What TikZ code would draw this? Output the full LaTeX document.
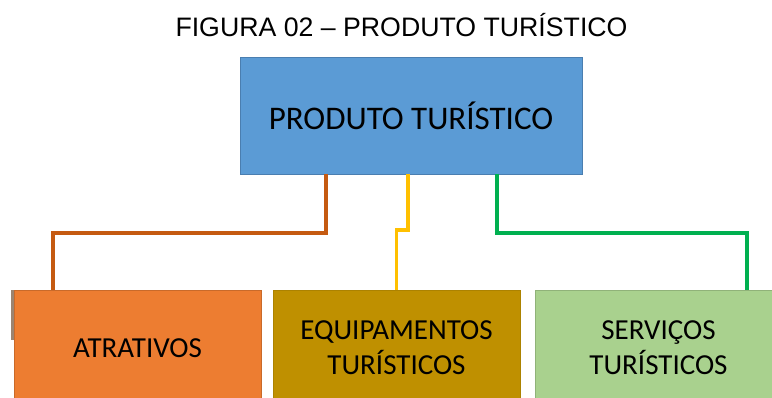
\documentclass[tikz,border=0pt]{standalone}
\usepackage{fontspec}
\setmainfont{Carlito}
\newfontfamily\titlefont{Liberation Sans}
\usetikzlibrary{positioning}
\definecolor{prodblue}{HTML}{5B9BD5}
\definecolor{prodedge}{HTML}{4A7EB0}
\definecolor{atrfill}{HTML}{ED7D31}
\definecolor{equfill}{HTML}{BF9000}
\definecolor{servfill}{HTML}{A9D18E}
\definecolor{atrline}{HTML}{C55A11}
\definecolor{equline}{HTML}{FFC000}
\definecolor{servline}{HTML}{00B050}
\definecolor{stripgray}{HTML}{9C8470}

\begin{document}
\begin{tikzpicture}
[x=1pt,y=-1pt,
 every node/.style={inner sep=0pt,outer sep=0pt,align=center},
 prodbox/.style={rectangle,fill=prodblue,draw=prodedge,line width=0.8pt,minimum width=342pt,minimum height=117pt,font=\fontsize{33}{40}\selectfont},
 box/.style={rectangle,line width=0.8pt,minimum width=247pt,minimum height=116pt,font=\fontsize{29}{35}\selectfont},
 link/.style={line width=3.5pt}]
\useasboundingbox (0,0) rectangle (772,398);
\node[font=\titlefont\fontsize{26.7}{30}\selectfont] (title) at (401.5,25.5) {FIGURA 02 – PRODUTO TURÍSTICO};
\node[prodbox] (prod) at (411,115.5) {PRODUTO TURÍSTICO};

% faint strip behind the first box
\fill[stripgray] (11,290) rectangle (16,340);
\node[box,fill=atrfill,draw=atrfill!85!black]   (atr)  at (137.5,348) {ATRATIVOS};
\node[box,fill=equfill,draw=equfill!90!black]   (equ)  at (396.5,348) {EQUIPAMENTOS\\TURÍSTICOS};
\node[box,fill=servfill,draw=servfill!85!black] (serv) at (658.5,348) {SERVIÇOS\\TURÍSTICOS};

\draw[link,atrline]  ([xshift=-85pt]prod.south) -- ++(0,59) -| ([xshift=-84.5pt]atr.north);
\draw[link,equline]  ([xshift=-3pt]prod.south)  -- ++(0,56) -| (equ.north);
\draw[link,servline] ([xshift=86pt]prod.south)  -- ++(0,59) -| ([xshift=88.5pt]serv.north);
\end{tikzpicture}
\end{document}
